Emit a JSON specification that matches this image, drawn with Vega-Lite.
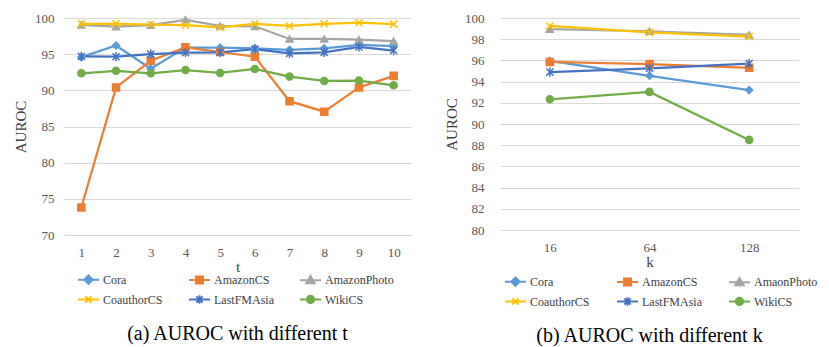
{
  "$schema": "https://vega.github.io/schema/vega-lite/v6.json",
  "background": "white",
  "padding": {"left": 13, "top": 12, "right": 0, "bottom": 0},
  "spacing": 33,
  "config": {
    "view": {"stroke": null},
    "font": "Liberation Serif",
    "axis": {
      "labelFont": "Liberation Serif",
      "labelFontSize": 13,
      "labelColor": "#595959",
      "titleFont": "Liberation Serif",
      "titleFontSize": 15,
      "titleFontWeight": "normal",
      "titleColor": "#404040",
      "gridColor": "#D9D9D9",
      "domainColor": "#D9D9D9",
      "ticks": false
    },
    "legend": {
      "orient": "none",
      "direction": "horizontal",
      "columns": 3,
      "gridAlign": "all",
      "symbolSize": 441,
      "symbolStrokeWidth": 2,
      "labelFont": "Liberation Serif",
      "labelFontSize": 12,
      "labelColor": "#404040",
      "labelOffset": 3,
      "padding": 0
    },
    "title": {"font": "Liberation Serif", "fontSize": 20, "fontWeight": "normal", "color": "#000000"}
  },
  "datasets": {
    "a": [
      {"t": 1, "series": "Cora", "v": 94.6}, {"t": 2, "series": "Cora", "v": 96.2}, {"t": 3, "series": "Cora", "v": 93.0}, {"t": 4, "series": "Cora", "v": 95.9}, {"t": 5, "series": "Cora", "v": 95.9}, {"t": 6, "series": "Cora", "v": 95.8}, {"t": 7, "series": "Cora", "v": 95.6}, {"t": 8, "series": "Cora", "v": 95.8}, {"t": 9, "series": "Cora", "v": 96.3}, {"t": 10, "series": "Cora", "v": 96.1},
      {"t": 1, "series": "AmazonCS", "v": 73.8}, {"t": 2, "series": "AmazonCS", "v": 90.4}, {"t": 3, "series": "AmazonCS", "v": 94.1}, {"t": 4, "series": "AmazonCS", "v": 95.95}, {"t": 5, "series": "AmazonCS", "v": 95.3}, {"t": 6, "series": "AmazonCS", "v": 94.65}, {"t": 7, "series": "AmazonCS", "v": 88.5}, {"t": 8, "series": "AmazonCS", "v": 87.05}, {"t": 9, "series": "AmazonCS", "v": 90.4}, {"t": 10, "series": "AmazonCS", "v": 92.0},
      {"t": 1, "series": "AmazonPhoto", "v": 99.05}, {"t": 2, "series": "AmazonPhoto", "v": 98.8}, {"t": 3, "series": "AmazonPhoto", "v": 99.0}, {"t": 4, "series": "AmazonPhoto", "v": 99.75}, {"t": 5, "series": "AmazonPhoto", "v": 98.9}, {"t": 6, "series": "AmazonPhoto", "v": 98.85}, {"t": 7, "series": "AmazonPhoto", "v": 97.1}, {"t": 8, "series": "AmazonPhoto", "v": 97.1}, {"t": 9, "series": "AmazonPhoto", "v": 97.0}, {"t": 10, "series": "AmazonPhoto", "v": 96.8},
      {"t": 1, "series": "CoauthorCS", "v": 99.2}, {"t": 2, "series": "CoauthorCS", "v": 99.2}, {"t": 3, "series": "CoauthorCS", "v": 99.1}, {"t": 4, "series": "CoauthorCS", "v": 99.0}, {"t": 5, "series": "CoauthorCS", "v": 98.7}, {"t": 6, "series": "CoauthorCS", "v": 99.2}, {"t": 7, "series": "CoauthorCS", "v": 98.9}, {"t": 8, "series": "CoauthorCS", "v": 99.2}, {"t": 9, "series": "CoauthorCS", "v": 99.35}, {"t": 10, "series": "CoauthorCS", "v": 99.15},
      {"t": 1, "series": "LastFMAsia", "v": 94.7}, {"t": 2, "series": "LastFMAsia", "v": 94.65}, {"t": 3, "series": "LastFMAsia", "v": 95.0}, {"t": 4, "series": "LastFMAsia", "v": 95.2}, {"t": 5, "series": "LastFMAsia", "v": 95.25}, {"t": 6, "series": "LastFMAsia", "v": 95.7}, {"t": 7, "series": "LastFMAsia", "v": 95.1}, {"t": 8, "series": "LastFMAsia", "v": 95.25}, {"t": 9, "series": "LastFMAsia", "v": 96.0}, {"t": 10, "series": "LastFMAsia", "v": 95.5},
      {"t": 1, "series": "WikiCS", "v": 92.35}, {"t": 2, "series": "WikiCS", "v": 92.7}, {"t": 3, "series": "WikiCS", "v": 92.35}, {"t": 4, "series": "WikiCS", "v": 92.8}, {"t": 5, "series": "WikiCS", "v": 92.4}, {"t": 6, "series": "WikiCS", "v": 92.95}, {"t": 7, "series": "WikiCS", "v": 91.9}, {"t": 8, "series": "WikiCS", "v": 91.3}, {"t": 9, "series": "WikiCS", "v": 91.35}, {"t": 10, "series": "WikiCS", "v": 90.7}
    ],
    "b": [
      {"k": 16, "series": "Cora", "v": 95.95}, {"k": 64, "series": "Cora", "v": 94.55}, {"k": 128, "series": "Cora", "v": 93.2},
      {"k": 16, "series": "AmazonCS", "v": 95.85}, {"k": 64, "series": "AmazonCS", "v": 95.65}, {"k": 128, "series": "AmazonCS", "v": 95.3},
      {"k": 16, "series": "AmaonPhoto", "v": 98.95}, {"k": 64, "series": "AmaonPhoto", "v": 98.75}, {"k": 128, "series": "AmaonPhoto", "v": 98.4},
      {"k": 16, "series": "CoauthorCS", "v": 99.25}, {"k": 64, "series": "CoauthorCS", "v": 98.65}, {"k": 128, "series": "CoauthorCS", "v": 98.25},
      {"k": 16, "series": "LastFMAsia", "v": 94.9}, {"k": 64, "series": "LastFMAsia", "v": 95.25}, {"k": 128, "series": "LastFMAsia", "v": 95.7},
      {"k": 16, "series": "WikiCS", "v": 92.33}, {"k": 64, "series": "WikiCS", "v": 93.03}, {"k": 128, "series": "WikiCS", "v": 88.5}
    ]
  },
  "resolve": {
    "scale": {"x": "independent", "y": "independent", "stroke": "independent", "fill": "independent", "shape": "independent"},
    "legend": {"stroke": "independent", "fill": "independent", "shape": "independent"}
  },
  "hconcat": [
    {
      "width": 347,
      "height": 217,
      "data": {"name": "a"},
      "title": {"text": "(a) AUROC with different t", "orient": "bottom", "anchor": "middle", "offset": 16},
      "encoding": {
        "x": {"field": "t", "type": "ordinal", "scale": {"type": "point", "padding": 0.5, "domain": [1, 2, 3, 4, 5, 6, 7, 8, 9, 10]}, "axis": {"title": "t", "labelAngle": 0, "labelPadding": 11, "titlePadding": 0, "grid": false}},
        "y": {"field": "v", "type": "quantitative", "scale": {"domain": [70, 100], "zero": false, "nice": false}, "axis": {"title": "AUROC", "values": [70, 75, 80, 85, 90, 95, 100], "domain": false, "grid": true, "labelPadding": 10, "titlePadding": 6}}
      },
      "resolve": {"scale": {"stroke": "independent", "fill": "independent", "shape": "independent"}},
      "layer": [
        {
          "mark": {"type": "line", "strokeWidth": 2.25},
          "encoding": {
            "stroke": {"field": "series", "type": "nominal", "scale": {"domain": ["Cora", "AmazonCS", "AmazonPhoto", "CoauthorCS", "LastFMAsia", "WikiCS"], "range": ["#5B9BD5", "#ED7D31", "#A5A5A5", "#FFC000", "#4472C4", "#70AD47"]}, "legend": null}
          }
        },
        {
          "mark": {"type": "point", "filled": true, "size": 50, "strokeWidth": 1.5, "opacity": 1},
          "encoding": {
            "stroke": {"field": "series", "type": "nominal", "scale": {"domain": ["Cora", "AmazonCS", "AmazonPhoto", "CoauthorCS", "LastFMAsia", "WikiCS"], "range": ["#5B9BD5", "#ED7D31", "#A5A5A5", "#FFC000", "#4472C4", "#70AD47"]}, "legend": null},
            "fill": {"field": "series", "type": "nominal", "scale": {"domain": ["Cora", "AmazonCS", "AmazonPhoto", "CoauthorCS", "LastFMAsia", "WikiCS"], "range": ["#5B9BD5", "#ED7D31", "#A5A5A5", "#FFC000", "#4472C4", "#70AD47"]}, "legend": null},
            "shape": {"field": "series", "type": "nominal", "scale": {"domain": ["Cora", "AmazonCS", "AmazonPhoto", "CoauthorCS", "LastFMAsia", "WikiCS"], "range": ["diamond", "square", "triangle-up", "M-1,-1L1,1M-1,1L1,-1", "M-1,-1L1,1M-1,1L1,-1M0,-1.3L0,1.3", "circle"]}, "legend": null}
          }
        },
        {
          "transform": [{"filter": "false"}],
          "mark": {"type": "point", "filled": true, "opacity": 1},
          "encoding": {
            "stroke": {"field": "series", "type": "nominal", "scale": {"domain": ["Cora", "AmazonCS", "AmazonPhoto", "CoauthorCS", "LastFMAsia", "WikiCS"], "range": ["#5B9BD5", "#ED7D31", "#A5A5A5", "#FFC000", "#4472C4", "#70AD47"]}, "legend": {"title": null, "legendX": 13, "legendY": 250, "columnPadding": 13, "rowPadding": -2}},
            "fill": {"field": "series", "type": "nominal", "scale": {"domain": ["Cora", "AmazonCS", "AmazonPhoto", "CoauthorCS", "LastFMAsia", "WikiCS"], "range": ["#5B9BD5", "#ED7D31", "#A5A5A5", "#FFC000", "#4472C4", "#70AD47"]}, "legend": {"title": null, "legendX": 13, "legendY": 250, "columnPadding": 13, "rowPadding": -2}},
            "shape": {"field": "series", "type": "nominal", "scale": {"domain": ["Cora", "AmazonCS", "AmazonPhoto", "CoauthorCS", "LastFMAsia", "WikiCS"], "range": ["M-1,0H1M0,-0.4L0.4,0L0,0.4L-0.4,0Z", "M-1,0H1M-0.33,-0.33H0.33V0.33H-0.33Z", "M-1,0H1M0,-0.4L0.4,0.3H-0.4Z", "M-1,0H1M-0.3,-0.3L0.3,0.3M-0.3,0.3L0.3,-0.3", "M-1,0H1M-0.3,-0.3L0.3,0.3M-0.3,0.3L0.3,-0.3M0,-0.4V0.4", "M-1,0H1M-0.35,0A0.35,0.35,0,1,0,0.35,0A0.35,0.35,0,1,0,-0.35,0"]}, "legend": {"title": null, "legendX": 13, "legendY": 250, "columnPadding": 13, "rowPadding": -2}}
          }
        }
      ]
    },
    {
      "width": 299,
      "height": 212,
      "data": {"name": "b"},
      "title": {"text": "(b) AUROC with different k", "orient": "bottom", "anchor": "middle", "offset": 16},
      "encoding": {
        "x": {"field": "k", "type": "ordinal", "scale": {"type": "point", "padding": 0.5, "domain": [16, 64, 128]}, "axis": {"title": "k", "labelAngle": 0, "labelPadding": 11, "titlePadding": 0, "grid": false}},
        "y": {"field": "v", "type": "quantitative", "scale": {"domain": [80, 100], "zero": false, "nice": false}, "axis": {"title": "AUROC", "values": [80, 82, 84, 86, 88, 90, 92, 94, 96, 98, 100], "domain": false, "grid": true, "labelPadding": 16, "titlePadding": 5}}
      },
      "resolve": {"scale": {"stroke": "independent", "fill": "independent", "shape": "independent"}},
      "layer": [
        {
          "mark": {"type": "line", "strokeWidth": 2.25},
          "encoding": {
            "stroke": {"field": "series", "type": "nominal", "scale": {"domain": ["Cora", "AmazonCS", "AmaonPhoto", "CoauthorCS", "LastFMAsia", "WikiCS"], "range": ["#5B9BD5", "#ED7D31", "#A5A5A5", "#FFC000", "#4472C4", "#70AD47"]}, "legend": null}
          }
        },
        {
          "mark": {"type": "point", "filled": true, "size": 50, "strokeWidth": 1.5, "opacity": 1},
          "encoding": {
            "stroke": {"field": "series", "type": "nominal", "scale": {"domain": ["Cora", "AmazonCS", "AmaonPhoto", "CoauthorCS", "LastFMAsia", "WikiCS"], "range": ["#5B9BD5", "#ED7D31", "#A5A5A5", "#FFC000", "#4472C4", "#70AD47"]}, "legend": null},
            "fill": {"field": "series", "type": "nominal", "scale": {"domain": ["Cora", "AmazonCS", "AmaonPhoto", "CoauthorCS", "LastFMAsia", "WikiCS"], "range": ["#5B9BD5", "#ED7D31", "#A5A5A5", "#FFC000", "#4472C4", "#70AD47"]}, "legend": null},
            "shape": {"field": "series", "type": "nominal", "scale": {"domain": ["Cora", "AmazonCS", "AmaonPhoto", "CoauthorCS", "LastFMAsia", "WikiCS"], "range": ["diamond", "square", "triangle-up", "M-1,-1L1,1M-1,1L1,-1", "M-1,-1L1,1M-1,1L1,-1M0,-1.3L0,1.3", "circle"]}, "legend": null}
          }
        },
        {
          "transform": [{"filter": "false"}],
          "mark": {"type": "point", "filled": true, "opacity": 1},
          "encoding": {
            "stroke": {"field": "series", "type": "nominal", "scale": {"domain": ["Cora", "AmazonCS", "AmaonPhoto", "CoauthorCS", "LastFMAsia", "WikiCS"], "range": ["#5B9BD5", "#ED7D31", "#A5A5A5", "#FFC000", "#4472C4", "#70AD47"]}, "legend": {"title": null, "legendX": 4, "legendY": 252, "columnPadding": 19, "rowPadding": 0}},
            "fill": {"field": "series", "type": "nominal", "scale": {"domain": ["Cora", "AmazonCS", "AmaonPhoto", "CoauthorCS", "LastFMAsia", "WikiCS"], "range": ["#5B9BD5", "#ED7D31", "#A5A5A5", "#FFC000", "#4472C4", "#70AD47"]}, "legend": {"title": null, "legendX": 4, "legendY": 252, "columnPadding": 19, "rowPadding": 0}},
            "shape": {"field": "series", "type": "nominal", "scale": {"domain": ["Cora", "AmazonCS", "AmaonPhoto", "CoauthorCS", "LastFMAsia", "WikiCS"], "range": ["M-1,0H1M0,-0.4L0.4,0L0,0.4L-0.4,0Z", "M-1,0H1M-0.33,-0.33H0.33V0.33H-0.33Z", "M-1,0H1M0,-0.4L0.4,0.3H-0.4Z", "M-1,0H1M-0.3,-0.3L0.3,0.3M-0.3,0.3L0.3,-0.3", "M-1,0H1M-0.3,-0.3L0.3,0.3M-0.3,0.3L0.3,-0.3M0,-0.4V0.4", "M-1,0H1M-0.35,0A0.35,0.35,0,1,0,0.35,0A0.35,0.35,0,1,0,-0.35,0"]}, "legend": {"title": null, "legendX": 4, "legendY": 252, "columnPadding": 19, "rowPadding": 0}}
          }
        }
      ]
    }
  ]
}
